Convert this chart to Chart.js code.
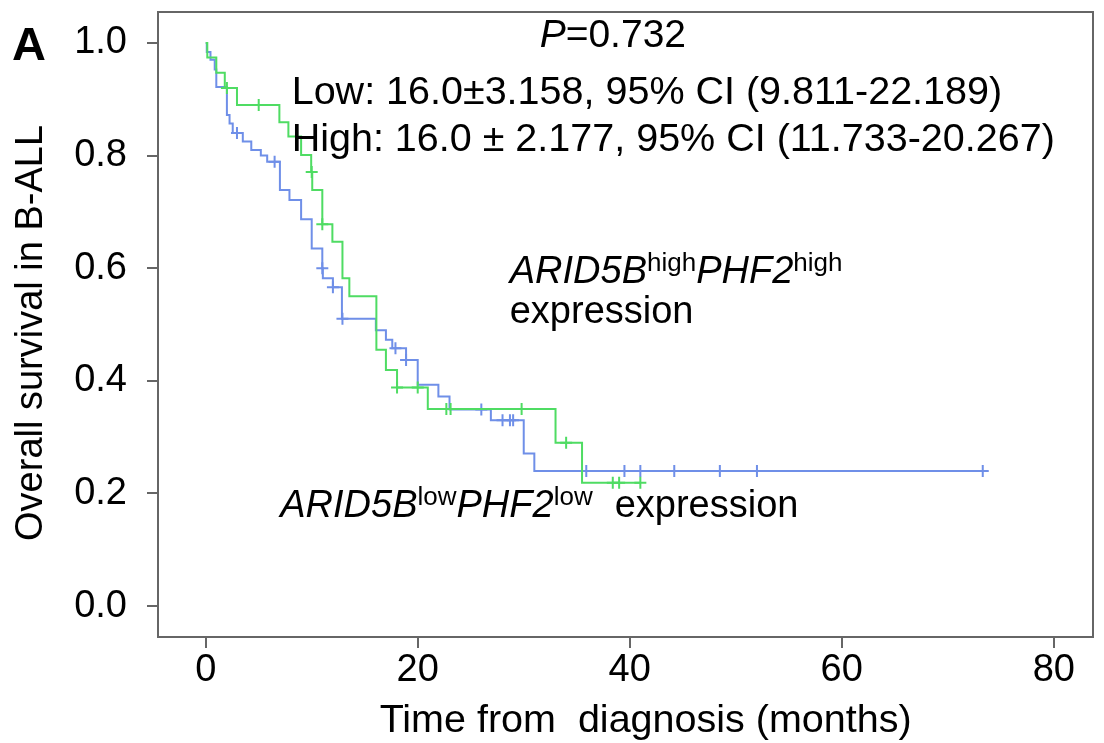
<!DOCTYPE html>
<html>
<head>
<meta charset="utf-8">
<script src="https://cdn.jsdelivr.net/npm/chart.js@4.4.1/dist/chart.umd.min.js"></script>
<style>
  html, body { margin: 0; padding: 0; background: #fff; }
</style>
</head>
<body>
<canvas id="km-chart" width="1104" height="743"></canvas>
<script>
const FONT = "'Liberation Sans', Arial, sans-serif";
const GREEN = "#4fdc63";
const BLUE = "#6f8fe8";
const FRAME = "#666666";

const xTicks = [0, 20, 40, 60, 80];
const yTicks = [0, 0.2, 0.4, 0.6, 0.8, 1.0];

// ARID5B high / PHF2 high (green): event times and survival after each step
const highTimes = [0, 0.15, 1.0, 1.8, 2.95, 6.95, 7.8, 9.0, 9.95, 10.05, 11.0, 11.95, 12.9, 13.55, 16.1, 17.0, 18.05, 20.95, 33.0, 35.5];
const highSurv = [1.0, 0.974, 0.947, 0.92, 0.89, 0.859, 0.834, 0.801, 0.771, 0.739, 0.678, 0.647, 0.582, 0.55, 0.455, 0.419, 0.388, 0.35, 0.29, 0.219];
const highCensored = [2.0, 5.0, 10.0, 11.0, 18.05, 20.0, 22.7, 23.1, 29.8, 34.0, 38.4, 39.0, 41.0];

// ARID5B low / PHF2 low (blue)
const lowTimes = [0, 0.1, 0.45, 0.85, 1.0, 2.0, 2.25, 2.55, 3.5, 4.3, 5.2, 5.8, 7.0, 7.9, 9.0, 10.0, 11.0, 11.05, 12.0, 12.85, 16.05, 17.0, 17.6, 18.9, 20.0, 21.95, 23.0, 26.9, 30.0, 31.0];
const lowSurv = [1.0, 0.984, 0.97, 0.953, 0.922, 0.872, 0.857, 0.84, 0.825, 0.81, 0.80, 0.789, 0.739, 0.721, 0.687, 0.635, 0.60, 0.582, 0.566, 0.51, 0.49, 0.473, 0.458, 0.437, 0.393, 0.372, 0.349, 0.33, 0.271, 0.24];
const lowCensored = [2.95, 6.5, 11.0, 12.0, 12.9, 17.9, 18.9, 26.0, 28.0, 28.7, 29.0, 35.9, 39.5, 41.0, 44.2, 48.5, 52.0, 73.3];

const pText = "=0.732";
const lowStat = "Low: 16.0\u00b13.158, 95% CI (9.811-22.189)";
const highStat = "High: 16.0 \u00b1 2.177, 95% CI (11.733-20.267)";

function survivalAt(times, surv, t) {
  let s = surv[0];
  for (let i = 0; i < times.length; i++) {
    if (times[i] <= t) s = surv[i];
  }
  return s;
}

function curvePoints(times, surv, censored) {
  const pts = times.map((t, i) => ({ x: t, y: surv[i] }));
  pts.push({ x: Math.max(...censored), y: surv[surv.length - 1] });
  return pts;
}

function censorPoints(times, surv, censored) {
  return censored.map((t) => ({ x: t, y: survivalAt(times, surv, t) }));
}

function font(size, style) {
  return `${style || ""} ${size}px ${FONT}`;
}

// draws a row of text pieces one after another (for italics / superscripts)
function drawRuns(ctx, runs, x, y, baseSize) {
  for (const run of runs) {
    ctx.font = font(run.size || baseSize || 38, run.style);
    ctx.fillText(run.text, x, y - (run.raise || 0));
    x += ctx.measureText(run.text).width + (run.gap || 0);
  }
}

const decorations = {
  id: "decorations",
  afterDraw(chart) {
    const { ctx, chartArea: a } = chart;
    const x = chart.scales.x;
    const y = chart.scales.y;
    ctx.save();
    ctx.strokeStyle = FRAME;
    ctx.lineWidth = 2;
    ctx.strokeRect(a.left, a.top, a.right - a.left, a.bottom - a.top);

    ctx.fillStyle = "#000";
    ctx.textBaseline = "alphabetic";
    ctx.textAlign = "left";

    ctx.font = font(47, "bold");
    ctx.fillText("A", 12, 60);

    drawRuns(ctx, [{ text: "P", style: "italic" }, { text: pText }], x.getPixelForValue(31.5), y.getPixelForValue(0.9934), 39);
    drawRuns(ctx, [{ text: lowStat }], x.getPixelForValue(8.11), y.getPixelForValue(0.8924), 39.5);
    drawRuns(ctx, [{ text: highStat }], x.getPixelForValue(8.11), y.getPixelForValue(0.809), 39.5);

    drawRuns(ctx, [
      { text: "ARID5B", style: "italic" },
      { text: "high", size: 26, raise: 12 },
      { text: "PHF2", style: "italic" },
      { text: "high", size: 26, raise: 12 },
    ], x.getPixelForValue(28.68), y.getPixelForValue(0.5732));
    drawRuns(ctx, [{ text: "expression" }], x.getPixelForValue(28.68), y.getPixelForValue(0.5027));

    drawRuns(ctx, [
      { text: "ARID5B", style: "italic" },
      { text: "low", size: 26, raise: 12 },
      { text: "PHF2", style: "italic" },
      { text: "low", size: 26, raise: 12, gap: 22 },
      { text: "expression" },
    ], x.getPixelForValue(7.03), y.getPixelForValue(0.158));

    // axis titles
    ctx.font = font(39.5);
    ctx.textAlign = "center";
    ctx.fillText("Time from  diagnosis (months)", x.getPixelForValue(41.5), chart.height - 11);

    ctx.font = font(38);
    ctx.translate(42, y.getPixelForValue(0.485));
    ctx.rotate(-Math.PI / 2);
    ctx.fillText("Overall survival in B-ALL", 0, 0);
    ctx.restore();
  },
};

new Chart(document.getElementById("km-chart"), {
  type: "line",
  data: {
    datasets: [
      {
        data: curvePoints(highTimes, highSurv, highCensored),
        borderColor: GREEN,
        borderWidth: 2,
        stepped: "before",
        pointRadius: 0,
        fill: false,
      },
      {
        type: "scatter",
        data: censorPoints(highTimes, highSurv, highCensored),
        borderColor: GREEN,
        backgroundColor: GREEN,
        pointStyle: "cross",
        pointRadius: 6,
        borderWidth: 2,
        showLine: false,
      },
      {
        data: curvePoints(lowTimes, lowSurv, lowCensored),
        borderColor: BLUE,
        borderWidth: 2,
        stepped: "before",
        pointRadius: 0,
        fill: false,
      },
      {
        type: "scatter",
        data: censorPoints(lowTimes, lowSurv, lowCensored),
        borderColor: BLUE,
        backgroundColor: BLUE,
        pointStyle: "cross",
        pointRadius: 6,
        borderWidth: 2,
        showLine: false,
      },
    ],
  },
  options: {
    responsive: false,
    animation: false,
    layout: { padding: { top: 12, right: 11, left: 0, bottom: 0 } },
    plugins: { legend: { display: false }, tooltip: { enabled: false } },
    scales: {
      x: {
        type: "linear",
        min: -4.5,
        max: 83.7,
        afterBuildTicks: (s) => { s.ticks = xTicks.map((v) => ({ value: v })); },
        afterFit: (s) => { s.height = 106; s.paddingLeft = 0; s.paddingRight = 0; },
        ticks: { font: { family: FONT, size: 38 }, color: "#000", padding: 0, maxRotation: 0, autoSkip: false },
        grid: { drawOnChartArea: false, drawTicks: true, tickLength: 11, color: FRAME, lineWidth: 2 },
        border: { display: true, color: FRAME, width: 2 },
      },
      y: {
        min: -0.055,
        max: 1.055,
        afterBuildTicks: (s) => { s.ticks = yTicks.map((v) => ({ value: v })); },
        afterFit: (s) => { s.width = 158; s.paddingTop = 0; s.paddingBottom = 0; },
        ticks: { font: { family: FONT, size: 38 }, color: "#000", padding: 20, callback: (v) => v.toFixed(1) },
        grid: { drawOnChartArea: false, drawTicks: true, tickLength: 11, color: FRAME, lineWidth: 2 },
        border: { display: true, color: FRAME, width: 2 },
      },
    },
  },
  plugins: [decorations],
});
</script>
</body>
</html>
